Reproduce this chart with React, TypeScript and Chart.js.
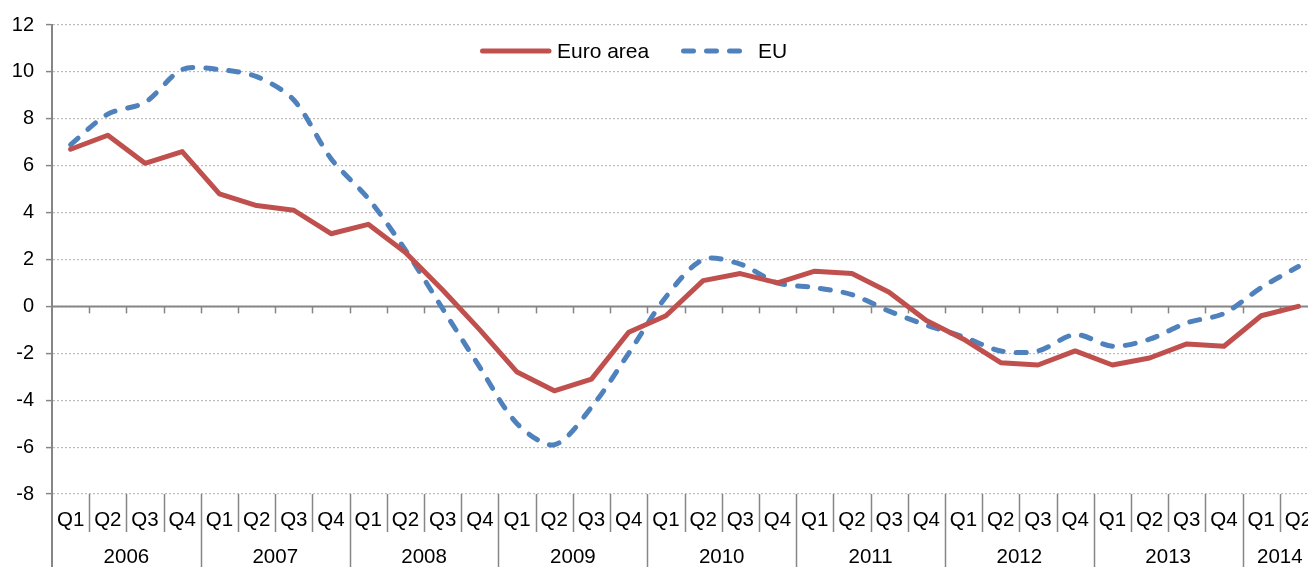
import React, { useEffect, useRef } from 'react';
import { Chart, registerables } from 'chart.js';

Chart.register(...registerables);

const categories = [
  '2006 Q1', '2006 Q2', '2006 Q3', '2006 Q4',
  '2007 Q1', '2007 Q2', '2007 Q3', '2007 Q4',
  '2008 Q1', '2008 Q2', '2008 Q3', '2008 Q4',
  '2009 Q1', '2009 Q2', '2009 Q3', '2009 Q4',
  '2010 Q1', '2010 Q2', '2010 Q3', '2010 Q4',
  '2011 Q1', '2011 Q2', '2011 Q3', '2011 Q4',
  '2012 Q1', '2012 Q2', '2012 Q3', '2012 Q4',
  '2013 Q1', '2013 Q2', '2013 Q3', '2013 Q4',
  '2014 Q1', '2014 Q2',
];

const euroArea = [
  6.7, 7.3, 6.1, 6.6,
  4.8, 4.3, 4.1, 3.1,
  3.5, 2.3, 0.7, -1.0,
  -2.8, -3.6, -3.1, -1.1,
  -0.4, 1.1, 1.4, 1.0,
  1.5, 1.4, 0.6, -0.6,
  -1.4, -2.4, -2.5, -1.9,
  -2.5, -2.2, -1.6, -1.7,
  -0.4, 0.0,
];

const eu = [
  6.9, 8.2, 8.7, 10.1,
  10.1, 9.8, 8.8, 6.3,
  4.6, 2.4, -0.1, -2.6,
  -5.0, -5.9, -4.3, -2.0,
  0.4, 2.0, 1.8, 1.0,
  0.8, 0.5, -0.2, -0.8,
  -1.3, -1.9, -1.9, -1.2,
  -1.7, -1.4, -0.7, -0.3,
  0.8, 1.7,
];

const seriesNames = ['Euro area', 'EU'];
const yMin = -8;
const yMax = 12;
const yStep = 2;

const FONT = "'Liberation Sans', Arial, Helvetica, sans-serif";
const RED = '#C0504D';
const BLUE = '#4F81BD';
const AXIS = '#868686';
const GRID = '#bbbbbb';

const customPlugin = {
  id: 'customAxes',
  beforeDatasetsDraw(chart: any) {
    const { ctx, chartArea, scales } = chart;
    const x = scales.x;
    const y = scales.y;
    const n = categories.length;
    const step = x.getPixelForValue(1) - x.getPixelForValue(0);
    const boundary = (i: number) => x.getPixelForValue(0) - step / 2 + i * step;
    const y0 = y.getPixelForValue(0);
    ctx.save();
    ctx.strokeStyle = AXIS;
    ctx.lineWidth = 2;
    ctx.beginPath();
    ctx.moveTo(chartArea.left, y0);
    ctx.lineTo(chartArea.right, y0);
    ctx.stroke();
    ctx.lineWidth = 1.5;
    for (let i = 1; i <= n; i++) {
      const bx = Math.round(boundary(i)) + 0.5;
      ctx.beginPath();
      ctx.moveTo(bx, y0);
      ctx.lineTo(bx, y0 + 7);
      ctx.stroke();
    }
    ctx.restore();
  },
  afterDraw(chart: any) {
    const { ctx, chartArea, scales, height } = chart;
    const x = scales.x;
    const n = categories.length;
    const step = x.getPixelForValue(1) - x.getPixelForValue(0);
    const boundary = (i: number) => x.getPixelForValue(0) - step / 2 + i * step;
    const bottom = chartArea.bottom;
    ctx.save();
    ctx.strokeStyle = AXIS;
    ctx.lineWidth = 1.5;
    for (let i = 1; i <= n; i++) {
      const yearBoundary = i < n ? categories[i].split(' ')[0] !== categories[i - 1].split(' ')[0] : true;
      const bx = Math.round(boundary(i)) + 0.5;
      ctx.beginPath();
      ctx.moveTo(bx, bottom);
      ctx.lineTo(bx, yearBoundary ? height : bottom + 38);
      ctx.stroke();
    }
    ctx.lineWidth = 2;
    ctx.beginPath();
    ctx.moveTo(chartArea.left, bottom);
    ctx.lineTo(chartArea.left, height);
    ctx.stroke();

    ctx.fillStyle = '#000';
    ctx.font = `20.5px ${FONT}`;
    ctx.textAlign = 'center';
    ctx.textBaseline = 'middle';
    categories.forEach((c, i) => {
      ctx.fillText(c.split(' ')[1], x.getPixelForValue(i), bottom + 26);
    });
    let start = 0;
    for (let i = 1; i <= n; i++) {
      if (i === n || categories[i].split(' ')[0] !== categories[start].split(' ')[0]) {
        const cx = (boundary(start) + boundary(i)) / 2;
        ctx.fillText(categories[start].split(' ')[0], cx, bottom + 63);
        start = i;
      }
    }

    const ly = 51;
    ctx.lineCap = 'round';
    ctx.lineWidth = 5;
    ctx.strokeStyle = RED;
    ctx.beginPath();
    ctx.moveTo(482.5, ly);
    ctx.lineTo(549, ly);
    ctx.stroke();
    ctx.strokeStyle = BLUE;
    ctx.setLineDash([10, 13]);
    ctx.beginPath();
    ctx.moveTo(683.5, ly);
    ctx.lineTo(742, ly);
    ctx.stroke();
    ctx.setLineDash([]);
    ctx.font = `21px ${FONT}`;
    ctx.textAlign = 'left';
    ctx.fillText(seriesNames[0], 557, ly + 1);
    ctx.fillText(seriesNames[1], 758, ly + 1);
    ctx.restore();
  },
};

export default function App() {
  const ref = useRef<HTMLCanvasElement | null>(null);

  useEffect(() => {
    if (!ref.current) return;
    const chart = new Chart(ref.current, {
      type: 'line',
      data: {
        labels: categories,
        datasets: [
          {
            label: seriesNames[0],
            data: euroArea,
            borderColor: RED,
            backgroundColor: RED,
            borderWidth: 5,
            pointRadius: 0,
            tension: 0,
            borderJoinStyle: 'round',
            borderCapStyle: 'round',
          },
          {
            label: seriesNames[1],
            data: eu,
            borderColor: BLUE,
            backgroundColor: BLUE,
            borderWidth: 5,
            borderDash: [10, 13],
            borderCapStyle: 'round',
            borderJoinStyle: 'round',
            pointRadius: 0,
            tension: 0.3,
          },
        ],
      },
      options: {
        responsive: false,
        animation: false,
        devicePixelRatio: 1,
        layout: { padding: { top: 25, bottom: 73, left: 0, right: 13 } },
        plugins: {
          legend: { display: false },
          tooltip: { enabled: false },
        },
        scales: {
          x: {
            type: 'category',
            display: false,
            offset: true,
          },
          y: {
            min: yMin,
            max: yMax,
            afterFit: (s: any) => {
              s.width = 52;
            },
            ticks: {
              stepSize: yStep,
              color: '#000',
              font: { family: FONT, size: 20 },
              padding: 12,
            },
            grid: {
              color: GRID,
              lineWidth: 1.2,
              tickColor: AXIS,
              tickLength: 6,
              tickWidth: 1.5,
              tickBorderDash: [],
            },
            border: {
              display: true,
              color: AXIS,
              width: 2,
              dash: [2, 2],
            },
          },
        },
      },
      plugins: [customPlugin],
    } as any);
    return () => chart.destroy();
  }, []);

  return (
    <div
      style={{
        position: 'fixed',
        left: 0,
        top: 0,
        width: 1308,
        height: 567,
        overflow: 'hidden',
        background: '#fff',
      }}
    >
      <canvas ref={ref} width={1330} height={567} style={{ display: 'block' }} />
    </div>
  );
}
